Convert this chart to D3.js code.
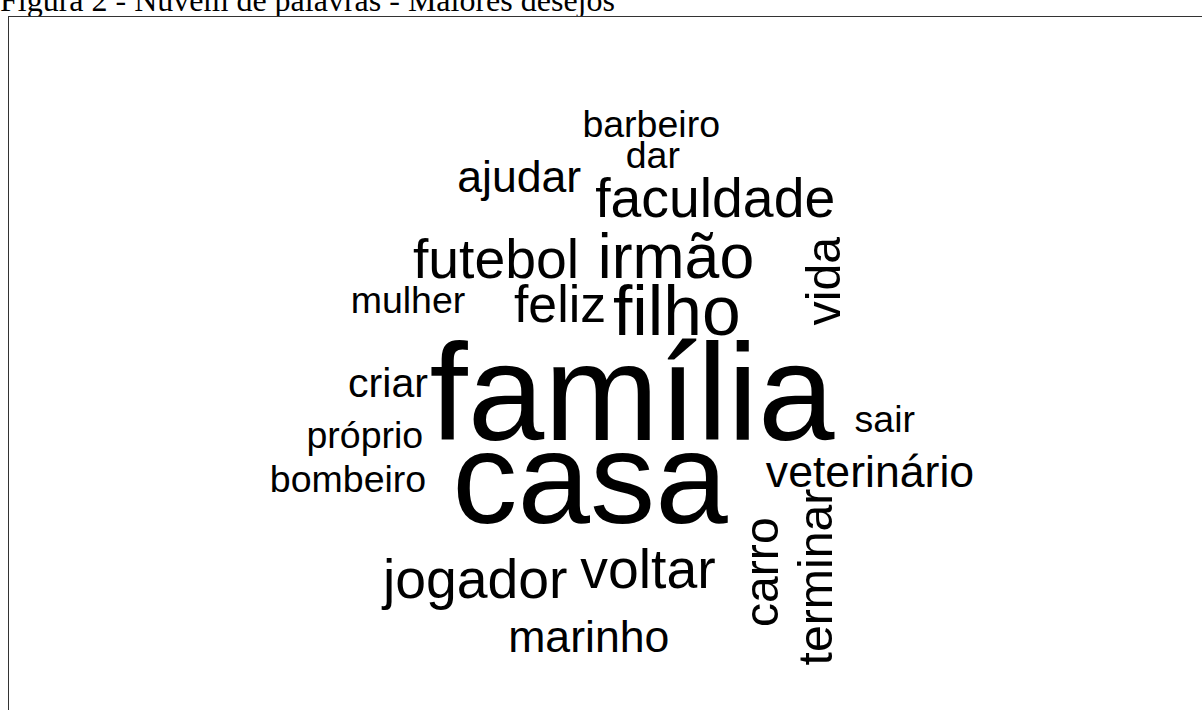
<!DOCTYPE html>
<html>
<head>
<meta charset="utf-8">
<script src="https://cdn.jsdelivr.net/npm/d3@7"></script>
<style>
  html, body { margin: 0; padding: 0; background: #fff; }
  svg { display: block; }
</style>
</head>
<body>
<div id="chart"></div>
<script>
// Palavras e frequências (nuvem "Maiores desejos")
const words = ["família", "casa", "filho", "irmão", "faculdade", "futebol", "feliz", "jogador", "voltar",
  "carro", "vida", "terminar", "ajudar", "veterinário", "marinho", "criar",
  "barbeiro", "dar", "mulher", "sair", "próprio", "bombeiro"];
const freqs = [30, 28, 11, 9, 7, 7, 6, 7, 7,
  5, 5, 5, 4, 4, 4, 3,
  2, 2, 2, 2, 2, 2];
// posição na nuvem (coordenadas do layout 0-1) e rotação
const layoutX = [0.540, 0.4875, 0.596, 0.595, 0.644, 0.370, 0.450, 0.344, 0.560,
  0.7225, 0.800, 0.790, 0.399, 0.8375, 0.486, 0.235,
  0.564, 0.566, 0.260, 0.856, 0.206, 0.185];
const layoutY = [0.567, 0.705, 0.392, 0.297, 0.195, 0.297, 0.370, 0.830, 0.813,
  0.787, 0.302, 0.795, 0.153, 0.645, 0.920, 0.495,
  0.062, 0.113, 0.355, 0.553, 0.580, 0.653];
const rotated = [false, false, false, false, false, false, false, false, false,
  true, true, true, false, false, false, false,
  false, false, false, false, false, false];

const titulo = "Figura 2 - Nuvem de palavras - Maiores desejos";

const width = 1202;
const height = 710;

const svg = d3.select("#chart")
    .append("svg")
    .attr("width", width)
    .attr("height", height);

// titulo (cortado no topo, como no original)
svg.append("text")
    .attr("x", 0)
    .attr("y", 11)
    .attr("font-family", "'Liberation Serif', 'Times New Roman', serif")
    .attr("font-size", 32)
    .attr("fill", "#000")
    .text(titulo);

// moldura
svg.append("rect")
    .attr("x", 8.5)
    .attr("y", 16.5)
    .attr("width", 1300)
    .attr("height", 800)
    .attr("fill", "#fff")
    .attr("stroke", "#333")
    .attr("stroke-width", 1);

const x = d3.scaleLinear().domain([0, 1]).range([200, 1000]);
const y = d3.scaleLinear().domain([0, 1]).range([100, 700]);
const size = d3.scaleLinear().domain([2, 30]).range([37.5, 137.5]);

const data = words.map((w, i) => ({
    word: w,
    freq: freqs[i],
    x: layoutX[i],
    y: layoutY[i],
    rot: rotated[i]
}));

svg.append("g")
    .selectAll("text")
    .data(data)
    .enter()
    .append("text")
    .attr("transform", d => `translate(${x(d.x)}, ${y(d.y)})` + (d.rot ? " rotate(-90)" : ""))
    .attr("text-anchor", "middle")
    .attr("font-family", "'Liberation Sans', Arial, sans-serif")
    .attr("font-size", d => size(d.freq))
    .attr("fill", "#000")
    .text(d => d.word);
</script>
</body>
</html>
